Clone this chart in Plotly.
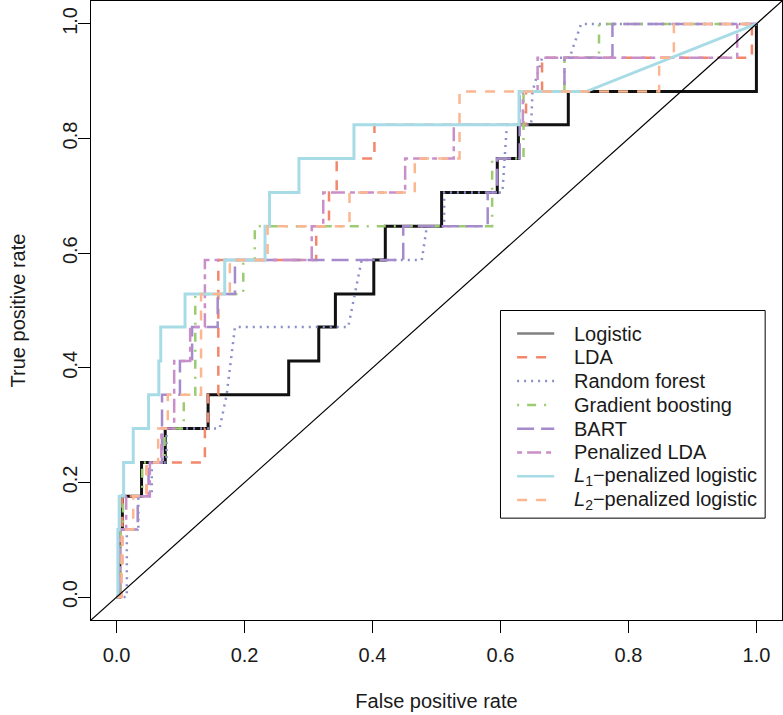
import plotly.graph_objects as go

FONT = "Liberation Sans, Arial, Helvetica, sans-serif"
FS = 20

# ---- data: ROC curve vertices (false positive rate, true positive rate) ----
LOGISTIC = [(0, 0), (0.005, 0), (0.005, 0.118), (0.009, 0.118), (0.009, 0.176), (0.039, 0.176),
            (0.039, 0.235), (0.076, 0.235), (0.076, 0.294), (0.143, 0.294), (0.143, 0.353),
            (0.269, 0.353), (0.269, 0.412), (0.316, 0.412), (0.316, 0.471), (0.342, 0.471),
            (0.342, 0.529), (0.402, 0.529), (0.402, 0.588), (0.420, 0.588), (0.420, 0.647),
            (0.508, 0.647), (0.508, 0.706), (0.595, 0.706), (0.595, 0.765), (0.628, 0.765),
            (0.628, 0.824), (0.706, 0.824), (0.706, 0.882), (1.0, 0.882), (1.0, 1.0)]

LDA = [(0, 0), (0.005, 0), (0.005, 0.059), (0.009, 0.059), (0.009, 0.176), (0.047, 0.176),
       (0.047, 0.235), (0.138, 0.235), (0.138, 0.294), (0.143, 0.294), (0.143, 0.353),
       (0.159, 0.353), (0.159, 0.588), (0.312, 0.588), (0.312, 0.647), (0.332, 0.647),
       (0.332, 0.706), (0.344, 0.706), (0.344, 0.765), (0.403, 0.765), (0.403, 0.824),
       (0.640, 0.824), (0.640, 0.882), (0.665, 0.882), (0.665, 0.941), (0.993, 0.941),
       (0.993, 1.0), (1.0, 1.0)]

RANDOM_FOREST = [(0, 0), (0.016, 0), (0.016, 0.118), (0.034, 0.118), (0.034, 0.176), (0.055, 0.176),
                 (0.055, 0.235), (0.078, 0.235), (0.078, 0.294), (0.161, 0.294), (0.172, 0.353),
                 (0.178, 0.412), (0.185, 0.471), (0.362, 0.471), (0.372, 0.529), (0.383, 0.588),
                 (0.477, 0.588), (0.485, 0.647), (0.512, 0.647), (0.512, 0.706), (0.603, 0.706),
                 (0.610, 0.824), (0.648, 0.824), (0.650, 0.882), (0.665, 0.941), (0.708, 0.941),
                 (0.726, 1.0), (1.0, 1.0)]

GRADIENT_BOOSTING = [(0, 0), (0.006, 0), (0.006, 0.118), (0.010, 0.118), (0.010, 0.176), (0.040, 0.176),
                     (0.040, 0.235), (0.075, 0.235), (0.075, 0.294), (0.105, 0.294), (0.105, 0.353),
                     (0.123, 0.353), (0.123, 0.529), (0.198, 0.529), (0.198, 0.588), (0.216, 0.588),
                     (0.216, 0.647), (0.587, 0.647), (0.587, 0.765), (0.636, 0.765), (0.636, 0.882),
                     (0.700, 0.882), (0.700, 0.941), (0.754, 0.941), (0.754, 1.0), (1.0, 1.0)]

BART = [(0, 0), (0.003, 0), (0.003, 0.118), (0.033, 0.118), (0.033, 0.176), (0.050, 0.176),
        (0.050, 0.235), (0.071, 0.235), (0.071, 0.353), (0.099, 0.353), (0.099, 0.412),
        (0.118, 0.412), (0.118, 0.471), (0.158, 0.471), (0.158, 0.529), (0.185, 0.529),
        (0.185, 0.588), (0.448, 0.588), (0.448, 0.647), (0.580, 0.647), (0.580, 0.706),
        (0.595, 0.706), (0.595, 0.765), (0.630, 0.765), (0.630, 0.882), (0.700, 0.882),
        (0.700, 0.941), (0.775, 0.941), (0.775, 1.0), (1.0, 1.0)]

PENALIZED_LDA = [(0, 0), (0.005, 0), (0.005, 0.118), (0.015, 0.118), (0.015, 0.176), (0.052, 0.176),
                 (0.052, 0.235), (0.070, 0.235), (0.070, 0.294), (0.090, 0.294), (0.090, 0.412),
                 (0.115, 0.412), (0.115, 0.471), (0.138, 0.471), (0.138, 0.588), (0.305, 0.588),
                 (0.305, 0.647), (0.323, 0.647), (0.323, 0.706), (0.451, 0.706), (0.451, 0.765),
                 (0.527, 0.765), (0.527, 0.824), (0.635, 0.824), (0.635, 0.882), (0.658, 0.882),
                 (0.658, 0.941), (0.970, 0.941), (0.970, 1.0), (1.0, 1.0)]

L1_LOGISTIC = [(0, 0), (0.002, 0), (0.002, 0.118), (0.004, 0.118), (0.004, 0.176), (0.011, 0.176),
               (0.011, 0.235), (0.026, 0.235), (0.026, 0.294), (0.050, 0.294), (0.050, 0.353),
               (0.066, 0.353), (0.066, 0.412), (0.069, 0.412), (0.069, 0.471), (0.107, 0.471),
               (0.107, 0.529), (0.169, 0.529), (0.169, 0.588), (0.232, 0.588), (0.232, 0.647),
               (0.239, 0.647), (0.239, 0.706), (0.285, 0.706), (0.285, 0.765), (0.371, 0.765),
               (0.371, 0.824), (0.629, 0.824), (0.629, 0.882), (0.734, 0.882), (1.0, 1.0)]

L2_LOGISTIC = [(0, 0), (0.008, 0), (0.008, 0.118), (0.026, 0.118), (0.026, 0.176), (0.047, 0.176),
               (0.047, 0.235), (0.065, 0.235), (0.065, 0.294), (0.080, 0.294), (0.080, 0.353),
               (0.132, 0.353), (0.132, 0.529), (0.177, 0.529), (0.177, 0.588), (0.236, 0.588),
               (0.236, 0.647), (0.364, 0.647), (0.364, 0.706), (0.466, 0.706), (0.466, 0.765),
               (0.536, 0.765), (0.536, 0.882), (0.848, 0.882), (0.848, 0.941), (0.871, 0.941),
               (0.871, 1.0), (1.0, 1.0)]

SERIES_NAMES = ["Logistic", "LDA", "Random forest", "Gradient boosting", "BART",
                "Penalized LDA", "<i>L</i><sub>1</sub>\u2212penalized logistic",
                "<i>L</i><sub>2</sub>\u2212penalized logistic"]
SERIES_DATA = [LOGISTIC, LDA, RANDOM_FOREST, GRADIENT_BOOSTING, BART,
               PENALIZED_LDA, L1_LOGISTIC, L2_LOGISTIC]

TICK_VALUES = [0.0, 0.2, 0.4, 0.6, 0.8, 1.0]
TICK_LABELS = ["0.0", "0.2", "0.4", "0.6", "0.8", "1.0"]

# ---- styles ----
COLORS = ["#111111", "#F3876B", "#8A8FC8", "#9CCB72", "#A58ACC", "#C98FC8", "#A7DCE6", "#FCB791"]
LEGEND_COLORS = ["#808080"] + COLORS[1:]
DASHES = ["solid", "10px,9px", "2px,5px", "2px,8px,9px,8px", "17px,7px",
          "5px,5px,14px,5px", "solid", "10px,9px"]
WIDTHS = [3, 2.5, 2.5, 2.5, 2.5, 2.5, 3, 2.5]

fig = go.Figure()
for name, pts, col, dash, w in zip(SERIES_NAMES, SERIES_DATA, COLORS, DASHES, WIDTHS):
    fig.add_trace(go.Scatter(
        x=[p[0] for p in pts], y=[p[1] for p in pts], mode="lines", name=name,
        line=dict(color=col, dash=dash, width=w), showlegend=False, hoverinfo="name+x+y"))

# diagonal reference line (drawn on top, across the whole plot region)
fig.add_shape(type="line", xref="x", yref="y", x0=-0.04, y0=-0.04, x1=1.04, y1=1.04,
              line=dict(color="black", width=1.2), layer="above")

# ---- legend box (R style) ----
LEG_LEFT, LEG_RIGHT, LEG_TOP, LEG_BOTTOM = 0.600, 1.0137, 0.500, 0.1377
LEG_FIRST, LEG_STEP = 0.4598, 0.0415
LINE_X0, LINE_X1, TEXT_X = 0.626, 0.684, 0.712
fig.add_shape(type="rect", xref="x", yref="y", x0=LEG_LEFT, x1=LEG_RIGHT, y0=LEG_BOTTOM, y1=LEG_TOP,
              line=dict(color="black", width=1), fillcolor="white", layer="above")
for i, (name, col, dash, w) in enumerate(zip(SERIES_NAMES, LEGEND_COLORS, DASHES, WIDTHS)):
    yy = LEG_FIRST - i * LEG_STEP
    fig.add_shape(type="line", xref="x", yref="y", x0=LINE_X0, x1=LINE_X1, y0=yy, y1=yy,
                  line=dict(color=col, dash=dash, width=2.5), layer="above")
    fig.add_annotation(x=TEXT_X, y=yy, xref="x", yref="y", text=name, showarrow=False,
                       xanchor="left", yanchor="middle", font=dict(family=FONT, size=FS, color="#1a1a1a"))

axis_common = dict(range=[-0.04, 1.04], tickvals=TICK_VALUES, ticktext=TICK_LABELS,
                   ticks="outside", ticklen=12, tickwidth=1, tickcolor="black",
                   showline=True, linecolor="black", linewidth=1, mirror=True,
                   showgrid=False, zeroline=False, automargin=False,
                   tickfont=dict(family=FONT, size=FS, color="#1a1a1a"))

fig.update_layout(
    width=783, height=715,
    margin=dict(l=91, r=1, t=1, b=95),
    plot_bgcolor="white", paper_bgcolor="white",
    showlegend=False,
    font=dict(family=FONT, size=FS, color="#1a1a1a"),
    xaxis=dict(**axis_common, ticklabelstandoff=5,
               title=dict(text="False positive rate", standoff=28,
                          font=dict(family=FONT, size=FS, color="#1a1a1a"))),
    yaxis=dict(**axis_common, tickangle=-90, ticklabelstandoff=-7,
               title=dict(text="True positive rate", standoff=28,
                          font=dict(family=FONT, size=FS, color="#1a1a1a"))),
)

fig.write_html("out.html", config={"displayModeBar": False},
               post_script="document.body.style.margin='0px';document.body.style.padding='0px';")
